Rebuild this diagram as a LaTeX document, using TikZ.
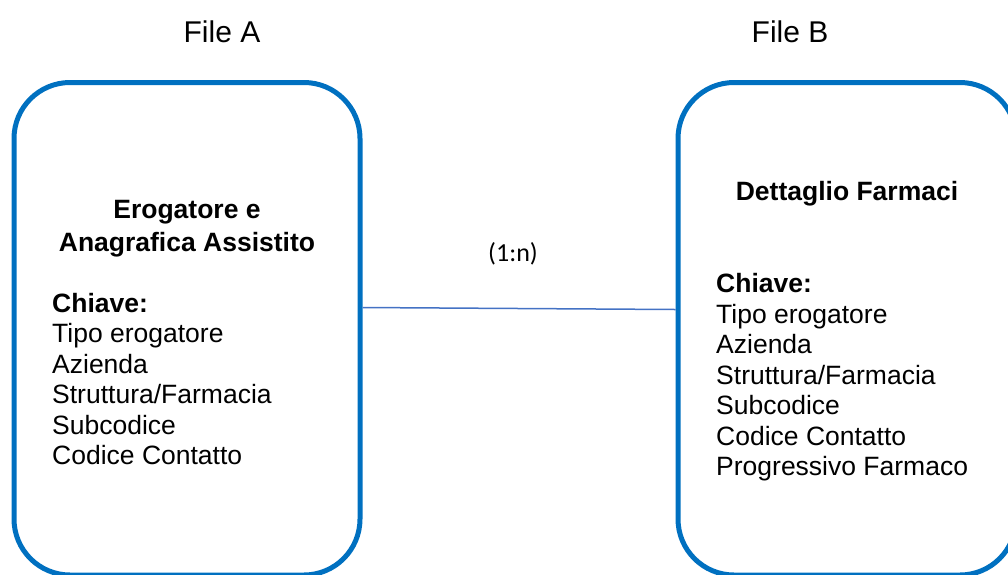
\documentclass[tikz,border=0pt]{standalone}
\usepackage{fontspec}
\setmainfont{Liberation Sans}
\newfontfamily\calfont{Carlito}
\definecolor{boxblue}{HTML}{0070C0}
\definecolor{linkblue}{RGB}{68,114,196}
\begin{document}
\begin{tikzpicture}[x=1pt,y=-1pt,
  filebox/.style={draw=boxblue, line width=5pt, rounded corners=56pt, rectangle, inner sep=0pt},
  heading/.style={font=\fontsize{30}{34}\selectfont, anchor=base},
  title/.style={font=\bfseries\fontsize{26.5}{30.5}\selectfont, anchor=base},
  keyline/.style={font=\fontsize{26.5}{30.5}\selectfont, anchor=base west, inner sep=0pt},
  link/.style={draw=linkblue, line width=1.5pt}]
\useasboundingbox (0,0) rectangle (1008,574);
\clip (0,0) rectangle (1008,574);
% boxes
\node[filebox, minimum width=346pt, minimum height=492.5pt] (boxA) at (187,328.75) {};
\node[filebox, minimum width=338pt, minimum height=492.5pt] (boxB) at (847,328.75) {};
% headings
\node[heading] (fa) at (222,42) {File A};
\node[heading] (fb) at (790,42) {File B};
% left box text
\node[title] (ta1) at (187,218) {Erogatore e};
\node[title] (ta2) at (187,251) {Anagrafica Assistito};
\node[keyline, font=\bfseries\fontsize{26.5}{30.5}\selectfont] (ka) at (52,312) {Chiave:};
\foreach \t [count=\i] in {Tipo erogatore, Azienda, Struttura/Farmacia, Subcodice, Codice Contatto}
  \node[keyline] (a\i) at (52,{312+30.5*\i}) {\t};
% right box text
\node[title] (tb1) at (847,200) {Dettaglio Farmaci};
\node[keyline, font=\bfseries\fontsize{26.5}{30.5}\selectfont] (kb) at (716,292.5) {Chiave:};
\foreach \t [count=\i] in {Tipo erogatore, Azienda, Struttura/Farmacia, Subcodice, Codice Contatto, Progressivo Farmaco}
  \node[keyline] (b\i) at (716,{292.5+30.5*\i}) {\t};
% connector
\coordinate (la) at ([yshift=-227.5pt]boxA.north east);
\coordinate (lb) at ([yshift=-229.5pt]boxB.north west);
\draw[link] (la) -- (lb);
\node[font=\calfont\fontsize{26}{30}\selectfont] (card) at (513,254) {(1:n)};
\end{tikzpicture}
\end{document}
